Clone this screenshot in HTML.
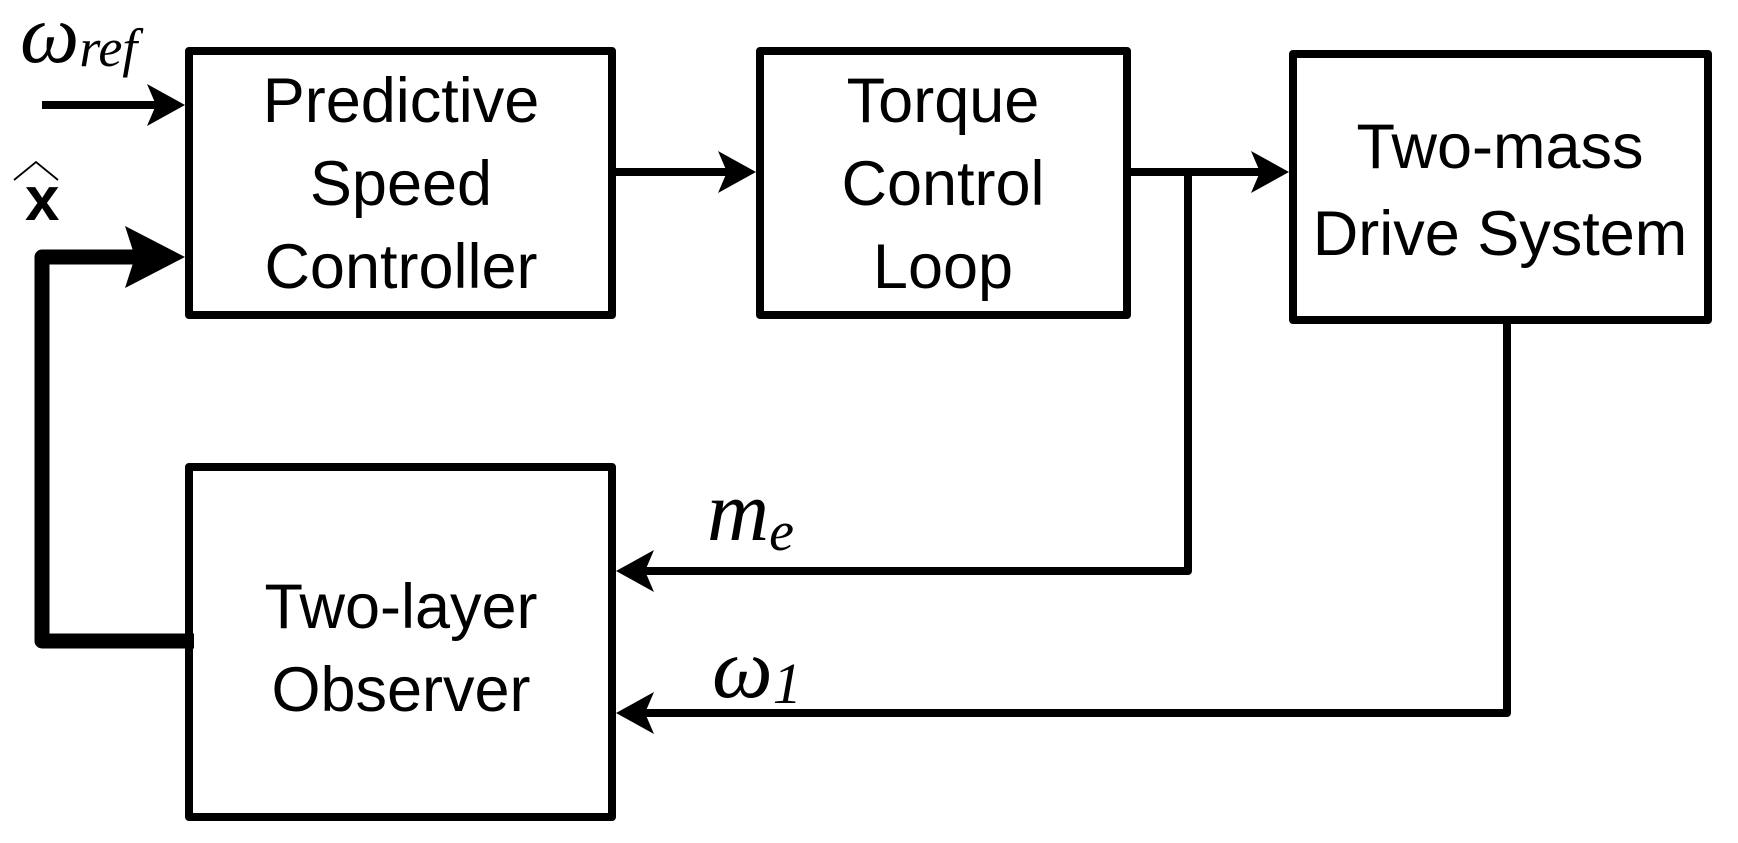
<!DOCTYPE html>
<html><head><meta charset="utf-8"><style>
html,body{margin:0;padding:0;background:#fff;}
svg{display:block;}
.t{font-family:"Liberation Sans",sans-serif;font-size:63px;fill:#000;text-anchor:middle;}
.m{font-family:"Liberation Serif",serif;font-style:italic;fill:#000;}
</style></head><body>
<svg width="1738" height="843" viewBox="0 0 1738 843" xmlns="http://www.w3.org/2000/svg">
<g fill="none" stroke="#000" stroke-width="8" stroke-linejoin="round">
<rect x="189" y="51" width="423" height="264"/>
<rect x="760" y="51" width="367" height="264"/>
<rect x="1293" y="54" width="415" height="266"/>
<rect x="189" y="467" width="423" height="350"/>
<line x1="42" y1="105" x2="160" y2="105"/>
<line x1="612" y1="172" x2="735" y2="172"/>
<polyline points="1127,172 1188,172 1188,571 640,571"/>
<line x1="1188" y1="172" x2="1268" y2="172"/>
<polyline points="1507,320 1507,713 640,713"/>
</g>
<polyline points="194,641 42,641 42,257 140,257" fill="none" stroke="#000" stroke-width="15" stroke-linejoin="round"/>
<g fill="#000">
<polygon points="185,105 147,84 156,105 147,126"/>
<polygon points="756,172 718,151 727,172 718,193"/>
<polygon points="1289,172 1251,151 1260,172 1251,193"/>
<polygon points="616,571 654,550 645,571 654,592"/>
<polygon points="616,713 654,692 645,713 654,734"/>
<polygon points="185,257 125,226 135,257 125,288"/>
</g>
<text class="t" x="401" y="122">Predictive</text>
<text class="t" x="401" y="205">Speed</text>
<text class="t" x="401" y="288">Controller</text>
<text class="t" x="943" y="122">Torque</text>
<text class="t" x="943" y="205">Control</text>
<text class="t" x="943" y="288">Loop</text>
<text class="t" x="1500" y="168">Two-mass</text>
<text class="t" x="1500" y="255">Drive System</text>
<text class="t" x="401" y="628">Two-layer</text>
<text class="t" x="401" y="711">Observer</text>
<text class="m" x="20" y="62" font-size="84">ω<tspan font-size="54" dy="4">ref</tspan></text>
<text x="25" y="220" font-family="Liberation Sans,sans-serif" font-weight="bold" font-size="62" fill="#000">x</text>
<polyline points="14,180 36,162 58,180" fill="none" stroke="#000" stroke-width="1.8"/>
<text class="m" x="707" y="540" font-size="86">m<tspan font-size="56" dy="10">e</tspan></text>
<text class="m" x="712" y="697" font-size="86">ω<tspan font-size="58" dy="6">1</tspan></text>
</svg>
</body></html>
